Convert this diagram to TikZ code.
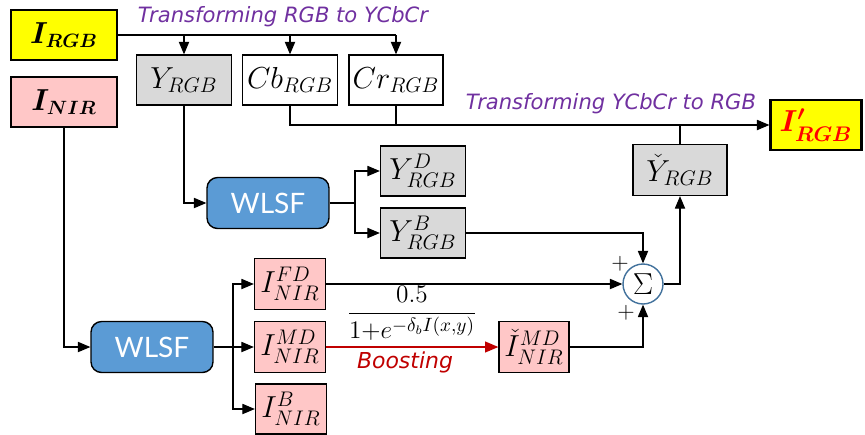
\documentclass[tikz,border=0pt]{standalone}
\usepackage{amsmath}
\usepackage{fontspec}
\usepackage{tikz}
\usetikzlibrary{shapes,arrows}
\usepackage{xcolor}
\newfontfamily\captfont{DejaVu Sans}
\newfontfamily\filtfont{Lato}
\definecolor{inyellow}{HTML}{FFFF00}
\definecolor{nirpink}{HTML}{FFC7C7}
\definecolor{ygray}{HTML}{D9D9D9}
\definecolor{filtblue}{HTML}{5B9BD5}
\definecolor{sumblue}{HTML}{41719C}
\definecolor{captpurple}{HTML}{7030A0}
\definecolor{boostred}{HTML}{C00000}
\tikzset{
	mbox/.style={draw,line width=0.8pt,inner sep=0pt,minimum height=1cm,font=\fontsize{18}{20}\selectfont},
	inbox/.style={mbox,line width=1.3pt,minimum width=2.12cm,font=\fontsize{16}{18}\selectfont},
	greybox/.style={mbox,fill=ygray},
	pinkbox/.style={mbox,fill=nirpink,minimum width=1.42cm},
	filtbox/.style={draw,line width=0.8pt,fill=filtblue,rounded corners=6pt,minimum width=2.44cm,minimum height=1.02cm,text=white,font=\filtfont\fontsize{16}{18}\selectfont},
	sumnode/.style={circle,draw=sumblue,line width=0.8pt,fill=white,minimum size=0.8cm,inner sep=0pt,font=\fontsize{18}{20}\selectfont},
	arr/.style={-triangle 45,line width=0.6pt},
	capt/.style={font=\captfont\itshape\fontsize{12}{14}\selectfont,text=captpurple}
}
\begin{document}
\begin{tikzpicture}[x=0.02cm,y=-0.02cm]
	\useasboundingbox (0,0) rectangle (865,434);
	% inputs
	\node[inbox,fill=inyellow] (irgb) at (64,35) {$\boldsymbol{I_{RGB}}$};
	\node[inbox,fill=nirpink] (inir) at (64,102) {$\boldsymbol{I_{NIR}}$};
	% YCbCr components
	\node[greybox,minimum width=1.9cm] (yrgb) at (184,80) {$Y_{RGB}$};
	\node[mbox,minimum width=1.9cm] (cbrgb) at (290,80) {$Cb_{RGB}$};
	\node[mbox,minimum width=1.88cm] (crrgb) at (396,80) {$Cr_{RGB}$};
	\node[capt] (capt1) at (283,17) {Transforming RGB to YCbCr};
	% output
	\node[inbox,fill=inyellow,minimum width=1.82cm,text=red,font=\fontsize{17}{19}\selectfont] (iprgb) at (816,125) {$\boldsymbol{I'_{RGB}}$};
	\node[capt] (capt2) at (611,104) {Transforming YCbCr to RGB};
	\node[greybox,minimum width=1.88cm,minimum height=1.02cm] (ycheck) at (680,170) {$\check{Y}_{RGB}$};
	% visible decomposition
	\node[filtbox] (wlsf1) at (268,203) {WLSF};
	\node[greybox,minimum width=1.7cm] (yd) at (423,171) {$Y^{D}_{RGB}$};
	\node[greybox,minimum width=1.7cm] (yb) at (423,233) {$Y^{B}_{RGB}$};
	\coordinate (split1) at (355,203);
	% NIR decomposition
	\node[filtbox] (wlsf2) at (152,347) {WLSF};
	\node[pinkbox,minimum height=1.02cm] (ifd) at (290,284) {$I^{FD}_{NIR}$};
	\node[pinkbox,minimum height=1.02cm] (imd) at (290,347) {$I^{MD}_{NIR}$};
	\node[pinkbox] (ib) at (291,409) {$I^{B}_{NIR}$};
	\node[pinkbox,minimum width=1.4cm,minimum height=1.02cm] (imdc) at (534,347) {$\check{I}^{MD}_{NIR}$};
	\coordinate (split2) at (233,347);
	% fusion
	\node[sumnode] (sum) at (643,284) {$\Sigma$};
	\node[font=\fontsize{13}{15}\selectfont] (plus1) at (620,264) {+};
	\node[font=\fontsize{13}{15}\selectfont] (plus2) at (626,313) {+};
	\node[anchor=south,inner sep=1pt,font=\fontsize{15}{17}\selectfont] (boostf) at (412,343) {$\displaystyle\frac{0.5}{1{+}e^{-\delta_b I(x,y)}}$};
	\node[font=\captfont\itshape\fontsize{12.5}{14}\selectfont,text=boostred] (boost) at (405,362) {Boosting};

	% RGB -> YCbCr
	\draw[line width=0.6pt] (irgb.east) -- (irgb.east -| crrgb.north);
	\draw[arr] (irgb.east -| yrgb.north) -- (yrgb.north);
	\draw[arr] (irgb.east -| cbrgb.north) -- (cbrgb.north);
	\draw[arr] (irgb.east -| crrgb.north) -- (crrgb.north);
	% YCbCr -> RGB
	\draw[arr] (cbrgb.south) |- (iprgb.west);
	\draw[line width=0.6pt] (crrgb.south) -- (crrgb.south |- iprgb.west);
	\draw[line width=0.6pt] (ycheck.north) -- (ycheck.north |- iprgb.west);
	% visible branch
	\draw[arr] (yrgb.south) |- (wlsf1.west);
	\draw[line width=0.6pt] (wlsf1.east) -- (split1);
	\draw[arr] (split1) |- (yd.west);
	\draw[arr] (split1) |- (yb.west);
	\draw[arr] (yb.east) -| (sum.north);
	% NIR branch
	\draw[arr] (inir.south) |- (wlsf2.west);
	\draw[line width=0.6pt] (wlsf2.east) -- (split2);
	\draw[arr] (split2) |- (ifd.west);
	\draw[arr] (split2) -- (imd.west);
	\draw[arr] (split2) |- (ib.west);
	\draw[arr] (ifd.east) -- (sum.west);
	\draw[arr,draw=boostred,line width=0.7pt] (imd.east) -- (imdc.west);
	\draw[arr] (imdc.east) -| (sum.south);
	\draw[arr] (sum.east) -| (ycheck.south);
\end{tikzpicture}
\end{document}
